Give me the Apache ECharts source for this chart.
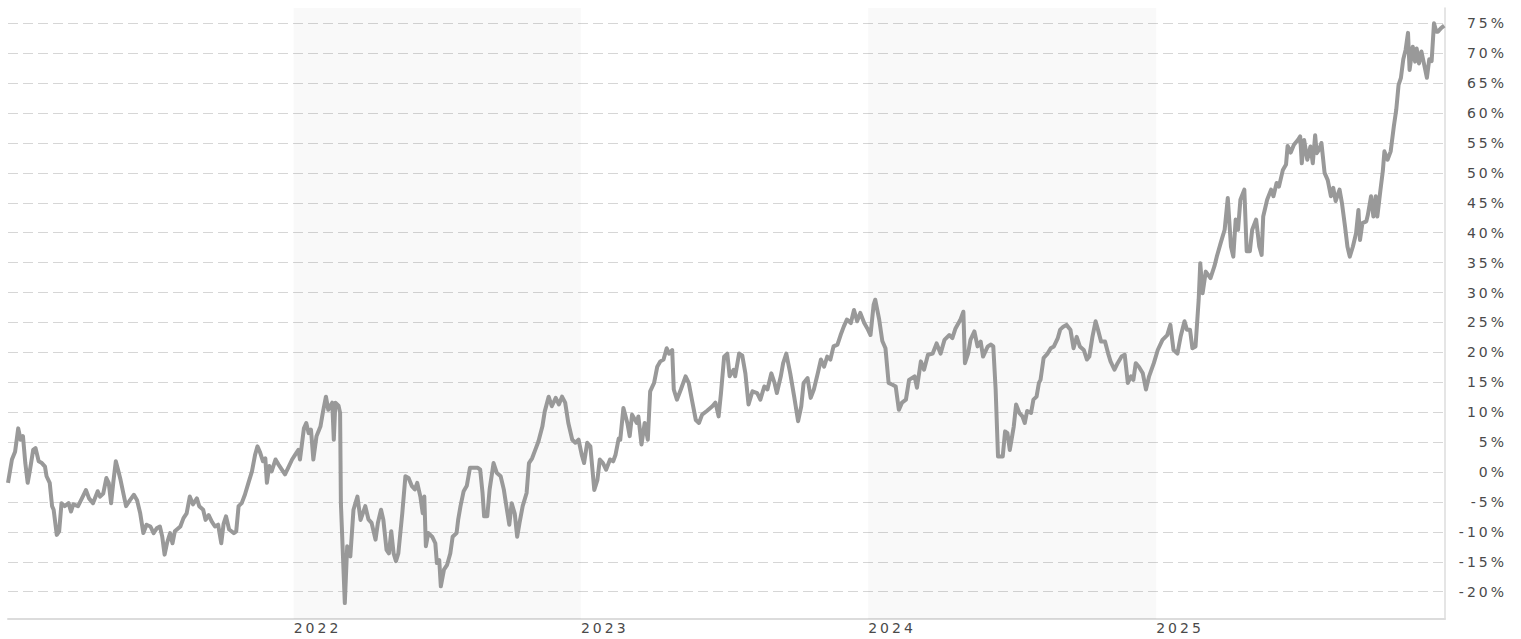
<!DOCTYPE html>
<html>
<head>
<meta charset="utf-8">
<title>Performance</title>
<script src="https://cdn.jsdelivr.net/npm/echarts@6/dist/echarts.min.js"></script>
<style>
  html, body { margin: 0; padding: 0; background: #fff; }
  #chart { width: 1521px; height: 639px; }
  /* the reference labels are set wide, svg text lets css do that */
  #chart text { letter-spacing: 3px; }
</style>
</head>
<body>
<div id="chart"></div>
<script>
  // time span of the x axis
  const firstDay = '2021-01-03';
  const lastDay = '2026-01-03';

  // years with grey background and year labels
  const shadedYears = [2022, 2024];
  const yearTicks = [2022, 2023, 2024, 2025];

  // y axis
  const pctTicks = [-20, -15, -10, -5, 0, 5, 10, 15, 20, 25, 30, 35, 40, 45, 50, 55, 60, 65, 70, 75];
  const pctMin = -24.56;
  const pctMax = 77.56;

  // days since firstDay
  const dayIndex = [
    0, 5, 9, 13, 16, 19, 22, 25, 28, 32, 35, 39, 43, 47, 49, 53, 56, 58, 62, 65,
    68, 72, 77, 80, 83, 89, 95, 99, 103, 108, 114, 117, 121, 125, 128, 131, 134, 137, 140, 143,
    147, 150, 155, 160, 164, 168, 172, 176, 181, 185, 189, 193, 196, 199, 202, 206, 209, 212, 219, 223,
    227, 231, 235, 240, 243, 248, 251, 255, 259, 263, 267, 271, 274, 277, 281, 287, 290, 293, 297, 301,
    306, 310, 314, 317, 320, 324, 327, 329, 332, 335, 340, 344, 348, 352, 356, 361, 365, 369, 371, 376,
    379, 382, 385, 388, 392, 397, 400, 404, 407, 412, 414, 416, 420, 422, 423, 428,
    431, 435, 439, 444, 448, 454, 458, 462, 467, 470, 474, 477, 481, 484, 487, 490, 493, 496, 501, 505,
    509, 513, 517, 520, 524, 527, 529, 531, 534, 539, 543, 545, 548, 550, 554, 558, 562, 565, 570, 572,
    575, 579, 583, 587, 593, 597, 600, 603, 605, 609, 612, 617, 621, 626, 630, 634, 637, 640, 644, 647,
    650, 654, 659, 662, 666, 670, 674, 679, 682, 687, 691, 696, 700, 704, 708, 712, 717, 721, 725, 729,
    732, 736, 740, 745, 749, 752, 756, 760, 765, 769, 772, 776, 778, 782, 787, 790,
    793, 799, 801, 805, 809, 813, 816, 821, 825, 829, 833, 837, 840, 844, 846, 850, 855, 861, 865, 869,
    874, 878, 882, 888, 895, 899, 903, 906, 910, 914, 917, 922, 924, 929, 933, 937, 941, 946, 952, 956,
    961, 965, 970, 974, 977, 982, 985, 989, 994, 999, 1004, 1008, 1011, 1016, 1020, 1024, 1029, 1033, 1037, 1041,
    1045, 1049, 1054, 1058, 1062, 1066, 1071, 1075, 1079, 1083, 1088, 1092, 1096, 1100, 1102, 1107, 1111, 1115, 1119, 1124,
    1128, 1132, 1136, 1141, 1145,
    1152, 1155, 1160, 1164, 1169, 1175, 1180, 1185, 1190, 1196, 1200, 1204, 1210, 1214, 1216, 1220, 1223, 1228, 1232, 1236,
    1239, 1245, 1249, 1252, 1255, 1258, 1264, 1267, 1270, 1273, 1278, 1281, 1285, 1289, 1292, 1295, 1300, 1303, 1307, 1310,
    1312, 1316, 1321, 1325, 1329, 1334, 1337, 1341, 1345, 1350, 1354, 1358, 1362, 1367, 1371, 1374, 1378, 1382, 1385, 1389,
    1394, 1398, 1401, 1406, 1410, 1415, 1419, 1423, 1427, 1430, 1433, 1437, 1442, 1446, 1450, 1456, 1461, 1467, 1473, 1477,
    1481, 1486, 1490, 1495, 1498, 1502, 1505, 1509, 1513, 1515,
    1518, 1522, 1528, 1533, 1536, 1541, 1546, 1550, 1554, 1557, 1560, 1563, 1566, 1571, 1574, 1578, 1581, 1586, 1590, 1593,
    1595, 1600, 1605, 1608, 1612, 1615, 1620, 1624, 1626, 1630, 1634, 1639, 1642, 1644, 1647, 1651, 1655, 1658, 1661, 1663,
    1666, 1669, 1673, 1677, 1681, 1684, 1687, 1692, 1695, 1699, 1702, 1705, 1709, 1713, 1716, 1718, 1721, 1726, 1728, 1732,
    1735, 1738, 1740, 1744, 1747, 1749, 1753, 1757, 1761, 1764, 1767, 1770, 1773, 1776, 1779, 1781, 1785, 1788, 1790, 1793,
    1796, 1800, 1803, 1806, 1809, 1812, 1815, 1817, 1821, 1825
  ];

  // change in percent
  const changePct = [
    -1.8, 2.1, 3.4, 7.3, 5.4, 6.0, 1.5, -1.8, 0.4, 3.7, 4.0, 1.8, 1.5, 0.9, -0.7, -1.8, -5.7, -6.3, -10.5, -9.9,
    -5.2, -5.7, -5.2, -6.6, -5.4, -5.7, -4.1, -3.0, -4.4, -5.2, -3.2, -4.1, -3.6, -1.0, -1.8, -5.2, -1.5, 1.8, 0.3, -1.3,
    -3.8, -5.7, -4.7, -3.8, -4.7, -6.9, -10.2, -8.8, -9.1, -10.2, -9.4, -9.1, -10.8, -13.8, -11.9, -10.2, -11.9, -9.9, -9.1, -7.7,
    -6.9, -4.1, -5.4, -4.4, -5.7, -6.3, -8.0, -7.2, -8.3, -9.1, -8.8, -11.9, -8.6, -7.4, -9.6, -10.2, -9.9, -5.7, -5.2, -3.8,
    -1.6, 0.1, 2.9, 4.3, 3.4, 1.8, 2.3, -1.8, 1.0, 0.1, 2.1, 1.2, 0.4, -0.4, 0.7, 2.1, 2.9, 3.7, 2.1, 7.3,
    8.2, 6.5, 7.1, 2.1, 6.0, 7.6, 9.9, 12.6, 10.4, 11.6, 5.4, 11.6, 11.1, 9.9, -5.2, -21.9,
    -12.4, -14.1, -6.3, -4.1, -8.0, -5.7, -7.9, -8.5, -11.3, -8.5, -6.3, -8.0, -13.0, -13.6, -9.9, -13.6, -14.9, -13.6, -6.9, -0.7,
    -1.0, -2.3, -2.9, -1.8, -4.1, -6.9, -4.1, -12.4, -10.2, -10.8, -11.9, -15.2, -14.7, -19.1, -16.3, -15.5, -13.6, -10.8, -10.2, -8.0,
    -5.7, -3.2, -2.3, 0.7, 0.7, 0.7, 0.4, -3.5, -7.4, -7.4, -2.9, 1.5, -0.1, -0.7, -2.9, -6.3, -8.8, -5.2, -7.0, -10.8,
    -8.5, -5.7, -3.5, 1.5, 2.3, 3.7, 5.1, 7.6, 10.1, 12.6, 11.0, 12.4, 11.3, 12.6, 11.6, 8.2, 5.4, 4.9, 5.4, 2.9,
    1.5, 4.9, 4.3, -3.0, -1.3, 2.1, 1.5, 0.4, 2.1, 1.8, 2.9, 5.6, 5.4, 10.7, 8.2, 6.0,
    9.6, 8.2, 9.3, 4.6, 8.2, 5.4, 13.5, 14.9, 17.6, 18.5, 18.8, 20.7, 19.8, 20.4, 13.8, 12.1, 13.8, 16.0, 14.9, 12.1,
    8.7, 8.2, 9.6, 10.2, 11.0, 11.6, 9.3, 13.2, 19.3, 19.8, 16.0, 17.1, 16.0, 19.8, 19.5, 16.5, 11.3, 13.5, 13.2, 12.1,
    14.3, 13.8, 16.5, 14.9, 13.2, 16.0, 18.2, 19.8, 16.5, 12.6, 8.5, 11.0, 14.9, 15.7, 12.4, 13.8, 16.5, 18.8, 17.6, 19.3,
    18.8, 21.0, 21.3, 22.9, 24.3, 25.5, 24.9, 27.1, 25.2, 26.6, 24.9, 24.0, 22.9, 28.0, 28.8, 25.5, 21.9, 20.7, 14.9, 14.6,
    14.3, 10.4, 11.6, 12.1, 15.4,
    16.0, 14.1, 18.5, 17.1, 19.6, 19.8, 21.5, 19.8, 22.1, 22.9, 22.4, 24.0, 25.4, 26.8, 18.2, 19.8, 22.1, 23.5, 21.0, 21.8,
    19.3, 21.0, 21.3, 21.0, 13.8, 2.6, 2.6, 6.8, 6.5, 3.7, 7.6, 11.3, 9.9, 9.3, 8.2, 10.2, 9.9, 12.1, 12.6, 14.9,
    15.4, 19.1, 19.8, 20.7, 21.0, 22.4, 23.8, 24.3, 24.6, 23.8, 20.7, 22.6, 21.0, 20.4, 18.8, 19.3, 22.6, 25.2, 23.8, 21.8,
    21.8, 19.8, 18.5, 17.1, 18.2, 19.3, 19.6, 14.9, 16.0, 15.4, 18.2, 17.6, 16.5, 13.8, 16.0, 18.2, 20.4, 22.1, 22.9, 24.6,
    20.4, 19.8, 22.6, 25.2, 23.8, 23.8, 20.7, 21.0, 28.8, 34.9,
    29.9, 33.5, 32.4, 34.4, 36.0, 38.3, 40.5, 45.8, 37.7, 36.0, 42.2, 40.5, 45.5, 47.2, 36.9, 36.9, 40.5, 42.2, 37.7, 36.3,
    42.7, 45.5, 47.2, 46.1, 48.3, 47.7, 50.5, 51.4, 54.5, 53.4, 54.7, 55.5, 56.1, 51.6, 55.5, 52.2, 54.4, 51.6, 56.3, 53.3,
    53.9, 55.0, 50.0, 48.8, 46.1, 47.5, 45.3, 47.2, 45.0, 41.0, 37.7, 36.0, 37.7, 39.9, 43.8, 38.8, 41.6, 41.9, 43.0, 46.1,
    42.7, 46.1, 42.7, 47.2, 50.3, 53.6, 52.2, 53.6, 57.8, 60.5, 64.7, 65.9, 69.0, 70.6, 73.4, 67.2, 71.1, 68.6, 70.8, 68.3,
    70.3, 67.8, 65.9, 69.0, 68.7, 75.0, 73.6, 73.6, 74.2, 74.6
  ];

  const DAY = 24 * 3600 * 1000;
  const startTime = Date.parse(firstDay + 'T00:00:00Z');
  const endTime = Date.parse(lastDay + 'T00:00:00Z');

  function yearStart(y) {
    return Date.UTC(y, 0, 1);
  }

  let lineData = [];
  dayIndex.forEach(function (d, i) {
    lineData.push([startTime + d * DAY, changePct[i]]);
  });

  let bands = [];
  shadedYears.forEach(function (y) {
    bands.push([{xAxis: yearStart(y)}, {xAxis: yearStart(y + 1)}]);
  });

  const labelFont = {
    color: '#4a4a4a',
    fontFamily: 'DejaVu Sans, Verdana, sans-serif',
    fontSize: 14
  };

  let chart = echarts.init(document.getElementById('chart'), null, {renderer: 'svg'});

  chart.setOption({
    animation: false,
    backgroundColor: '#fff',
    grid: {
      left: 8,
      right: 76,
      top: 8,
      bottom: 20,
      containLabel: false,
      outerBoundsMode: 'none'
    },
    /* x is a plain value axis of timestamps, year ticks set by hand */
    xAxis: {
      type: 'value',
      min: startTime,
      max: endTime,
      axisLine: {show: true, onZero: false, lineStyle: {color: '#dcdcdc', width: 2}},
      axisTick: {show: false, customValues: yearTicks.map(yearStart)},
      splitLine: {show: false},
      axisLabel: Object.assign({
        customValues: yearTicks.map(yearStart),
        align: 'left',
        margin: 2,
        formatter: function (v) {
          return String(new Date(v).getUTCFullYear());
        }
      }, labelFont)
    },
    yAxis: {
      type: 'value',
      position: 'right',
      min: pctMin,
      max: pctMax,
      axisLine: {show: true, onZero: false, lineStyle: {color: '#dcdcdc', width: 1.5}},
      axisTick: {show: false, customValues: pctTicks},
      splitLine: {
        show: true,
        lineStyle: {color: '#d6d6d6', width: 1, type: [10, 5]}
      },
      axisLabel: Object.assign({
        customValues: pctTicks,
        align: 'right',
        margin: 62,
        formatter: function (v) {
          return v + '%';
        }
      }, labelFont)
    },
    series: [{
      type: 'line',
      data: lineData,
      showSymbol: false,
      symbol: 'none',
      lineStyle: {color: '#999', width: 4, join: 'round'},
      silent: true,
      markArea: {
        silent: true,
        itemStyle: {color: 'rgba(0,0,0,0.024)'},
        data: bands
      }
    }]
  });
</script>
</body>
</html>
